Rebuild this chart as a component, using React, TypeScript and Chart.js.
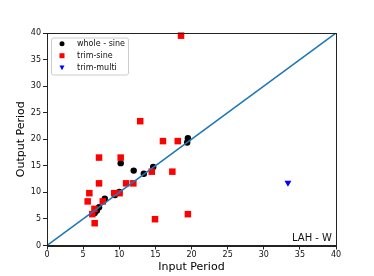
import React, { useEffect, useRef } from 'react';
import { Chart, registerables } from 'chart.js';

Chart.register(...registerables);

const axisTicks = [0, 5, 10, 15, 20, 25, 30, 35, 40];

const wholeSineX = [6.6, 6.9, 7.2, 8.0, 9.4, 10.0, 10.2, 12.0, 13.4, 14.7, 19.4, 19.5];
const wholeSineY = [6.1, 6.6, 7.2, 8.8, 9.5, 10.1, 15.5, 14.1, 13.5, 14.8, 19.4, 20.2];

const trimSineX = [18.55, 12.9, 16.05, 18.1, 7.2, 10.2, 14.5, 17.35, 7.2, 10.95, 11.95, 5.86, 9.3, 10.05, 5.63, 7.72, 6.57, 6.27, 6.6, 14.95, 19.5];
const trimSineY = [39.5, 23.4, 19.65, 19.65, 16.55, 16.55, 13.9, 13.9, 11.7, 11.7, 11.7, 9.85, 9.85, 9.85, 8.3, 8.3, 6.9, 5.9, 4.2, 4.95, 5.9];

const trimMultiX = [33.35];
const trimMultiY = [11.8];

const diagonalX = [0, 40];
const diagonalY = [0, 40];

const seriesLabels = ['whole - sine', 'trim-sine', 'trim-multi'];
const annotationText = 'LAH - W';

const zip = (xs: number[], ys: number[]) => xs.map((x, i) => ({ x, y: ys[i] }));

function drawMarker(ctx: CanvasRenderingContext2D, kind: string, x: number, y: number, s: number, color: string) {
  ctx.fillStyle = color;
  ctx.beginPath();
  if (kind === 'circle') {
    ctx.arc(x, y, s / 2, 0, Math.PI * 2);
  } else if (kind === 'rect') {
    ctx.rect(x - s / 2, y - s / 2, s, s);
  } else {
    ctx.moveTo(x - s / 2, y - s / 2.4);
    ctx.lineTo(x + s / 2, y - s / 2.4);
    ctx.lineTo(x, y + s / 2);
    ctx.closePath();
  }
  ctx.fill();
}

const decorPlugin = {
  id: 'mplDecor',
  afterDraw(chart: any) {
    const ctx: CanvasRenderingContext2D = chart.ctx;
    const { left, top, right, bottom } = chart.chartArea;
    ctx.save();
    // frame
    ctx.strokeStyle = '#222';
    ctx.lineWidth = 1;
    ctx.strokeRect(Math.round(left) + 0.5, Math.round(top) + 0.5, Math.round(right) - Math.round(left), Math.round(bottom) - Math.round(top));

    // legend
    const bx = left + 4.5, by = top + 5, bw = 77, bh = 37, r = 2;
    ctx.beginPath();
    ctx.moveTo(bx + r, by);
    ctx.lineTo(bx + bw - r, by);
    ctx.quadraticCurveTo(bx + bw, by, bx + bw, by + r);
    ctx.lineTo(bx + bw, by + bh - r);
    ctx.quadraticCurveTo(bx + bw, by + bh, bx + bw - r, by + bh);
    ctx.lineTo(bx + r, by + bh);
    ctx.quadraticCurveTo(bx, by + bh, bx, by + bh - r);
    ctx.lineTo(bx, by + r);
    ctx.quadraticCurveTo(bx, by, bx + r, by);
    ctx.closePath();
    ctx.fillStyle = 'rgba(255,255,255,0.8)';
    ctx.fill();
    ctx.strokeStyle = '#cccccc';
    ctx.stroke();

    const kinds = ['circle', 'rect', 'triangle'];
    const colors = ['#000000', '#ff0000', '#0000ff'];
    ctx.font = '8px "DejaVu Sans"';
    ctx.textBaseline = 'middle';
    ctx.textAlign = 'left';
    seriesLabels.forEach((lab, i) => {
      const cy = by + 5.7 + i * 12;
      drawMarker(ctx, kinds[i], left + 15, cy, 5, colors[i]);
      ctx.fillStyle = '#111';
      ctx.fillText(lab, left + 30, cy);
    });

    // annotation
    ctx.font = '10px "DejaVu Sans"';
    ctx.textAlign = 'right';
    ctx.textBaseline = 'alphabetic';
    ctx.fillStyle = '#111';
    ctx.fillText(annotationText, right - 4, bottom - 4.5);
    ctx.restore();
  },
};

export default function App() {
  const ref = useRef<HTMLCanvasElement>(null);
  useEffect(() => {
    document.body.style.margin = '0';
    Chart.defaults.font.family = '"DejaVu Sans"';
    const chart = new Chart(ref.current as HTMLCanvasElement, {
      type: 'scatter',
      data: {
        datasets: [
          {
            label: 'diagonal',
            data: zip(diagonalX, diagonalY),
            showLine: true,
            borderColor: '#1f77b4',
            borderWidth: 1.5,
            pointRadius: 0,
            order: 0,
          },
          {
            label: seriesLabels[0],
            data: zip(wholeSineX, wholeSineY),
            pointStyle: 'circle',
            pointRadius: 3.2,
            backgroundColor: '#000000',
            borderColor: '#000000',
            borderWidth: 0,
            order: 3,
            clip: false,
          },
          {
            label: seriesLabels[1],
            data: zip(trimSineX, trimSineY),
            pointStyle: 'rect',
            pointRadius: 4.6,
            backgroundColor: '#ff0000',
            borderColor: '#ff0000',
            borderWidth: 0,
            order: 2,
            clip: false,
          },
          {
            label: seriesLabels[2],
            data: zip(trimMultiX, trimMultiY),
            pointStyle: 'triangle',
            rotation: 180,
            pointRadius: 4,
            backgroundColor: '#0000ff',
            borderColor: '#0000ff',
            borderWidth: 0,
            order: 1,
            clip: false,
          },
        ],
      },
      options: {
        animation: false,
        responsive: false,
        devicePixelRatio: 1,
        events: [],
        layout: { padding: { top: 33, right: 38, left: 0, bottom: 0 } },
        plugins: { legend: { display: false }, tooltip: { enabled: false } },
        scales: {
          x: {
            type: 'linear',
            min: 0,
            max: 40,
            afterFit: (s: any) => { s.height = 30.5; },
            afterBuildTicks: (s: any) => { s.ticks = axisTicks.map((v) => ({ value: v })); },
            ticks: { color: '#111', font: { size: 8 }, padding: 1, maxRotation: 0 },
            grid: { drawOnChartArea: false, drawTicks: true, tickLength: 4, color: '#222' },
            border: { display: true, color: '#222' },
            title: { display: true, text: 'Input Period', color: '#000', font: { size: 11 }, padding: { top: 0, bottom: 2.4 } },
          },
          y: {
            type: 'linear',
            min: 0,
            max: 40,
            afterFit: (s: any) => { s.width = 47; },
            afterBuildTicks: (s: any) => { s.ticks = axisTicks.map((v) => ({ value: v })); },
            ticks: { color: '#111', font: { size: 8 }, padding: 2 },
            grid: { drawOnChartArea: false, drawTicks: true, tickLength: 4, color: '#222' },
            border: { display: true, color: '#222' },
            title: { display: true, text: 'Output Period', color: '#000', font: { size: 11 }, padding: { top: 14.4, bottom: 0 } },
          },
        },
      },
      plugins: [decorPlugin],
    } as any);
    return () => chart.destroy();
  }, []);
  return (
    <div style={{ position: 'absolute', left: 0, top: 0, width: 374, height: 276 }}>
      <canvas ref={ref} width={374} height={276} />
    </div>
  );
}
